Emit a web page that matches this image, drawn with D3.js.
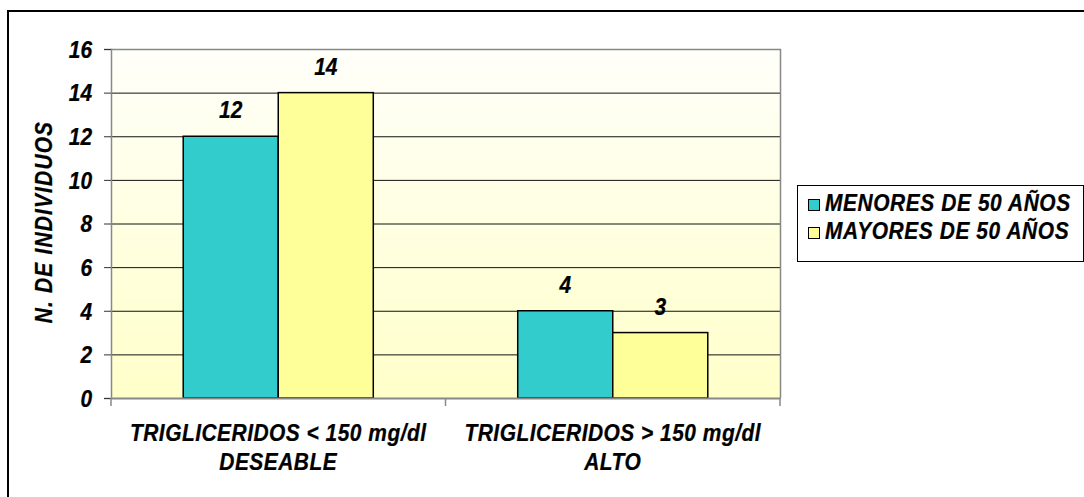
<!DOCTYPE html>
<html>
<head>
<meta charset="utf-8">
<script src="https://cdn.jsdelivr.net/npm/d3@7"></script>
<style>
  html, body { margin: 0; padding: 0; background: #fff; }
  svg text { font-family: "Liberation Sans", Arial, sans-serif; font-weight: bold; font-style: italic; fill: #000; stroke: #000; stroke-width: 0.25px; }
</style>
</head>
<body>
<svg id="chart" width="1084" height="497"></svg>
<script>
// Categories (two-line labels) and series
const categories = ["TRIGLICERIDOS < 150 mg/dl|DESEABLE", "TRIGLICERIDOS > 150 mg/dl|ALTO"];
const seriesNames = ["MENORES DE 50 AÑOS", "MAYORES DE 50 AÑOS"];
const menores = [12, 4];
const mayores = [14, 3];
const yTicks = [0, 2, 4, 6, 8, 10, 12, 14, 16];
const yTitle = "N. DE INDIVIDUOS";
const colors = ["#33CCCC", "#FFFF99"];

// Text is set slightly condensed: taller glyphs at the same width
const FONT = 23;
const SX = 0.91;

const svg = d3.select("#chart");

const plot = { left: 111, top: 49, right: 780, bottom: 398 };

// Outer chart frame
svg.append("rect")
  .attr("x", 8).attr("y", 11)
  .attr("width", 1200).attr("height", 600)
  .attr("fill", "#fff").attr("stroke", "#000").attr("stroke-width", 2);

// Plot-area gradient fill
const defs = svg.append("defs");
const grad = defs.append("linearGradient").attr("id", "bg")
  .attr("x1", 0).attr("y1", 0).attr("x2", 0).attr("y2", 1);
grad.append("stop").attr("offset", "0%").attr("stop-color", "#FFFFFA");
grad.append("stop").attr("offset", "100%").attr("stop-color", "#FFFFCA");

const x0 = d3.scaleBand().domain(categories).range([plot.left, plot.right]).padding(0);
const x1 = d3.scaleBand().domain(seriesNames).range([0, x0.bandwidth()])
  .paddingInner(0).paddingOuter(0.76);
const y = d3.scaleLinear().domain([0, 16]).range([plot.bottom, plot.top]);

svg.append("rect")
  .attr("x", plot.left).attr("y", plot.top)
  .attr("width", plot.right - plot.left).attr("height", plot.bottom - plot.top)
  .attr("fill", "url(#bg)");

// Horizontal gridlines
svg.append("g").selectAll("line")
  .data(yTicks.filter(d => d > 0 && d < 16))
  .join("line")
  .attr("x1", plot.left).attr("x2", plot.right)
  .attr("y1", d => y(d) + 0.5).attr("y2", d => y(d) + 0.5)
  .attr("stroke", "#111").attr("stroke-width", 1);

// Plot border (top and right)
svg.append("path")
  .attr("d", `M${plot.left},${plot.top + 0.5}H${plot.right + 0.5}V${plot.bottom}`)
  .attr("fill", "none").attr("stroke", "#888").attr("stroke-width", 1.5);

// Helper: place a condensed text element
function label(sel, x, yy, txt, anchor, spacing) {
  return sel.append("text")
    .attr("transform", `translate(${x},${yy}) scale(${SX},1)`)
    .attr("text-anchor", anchor)
    .style("font-size", FONT + "px")
    .style("letter-spacing", (spacing || 0) + "px")
    .text(txt);
}

// Bars
const data = categories.map((c, i) => ({ cat: c, vals: [menores[i], mayores[i]] }));
const groups = svg.append("g").selectAll("g")
  .data(data).join("g")
  .attr("transform", d => `translate(${x0(d.cat)},0)`);

groups.selectAll("rect")
  .data(d => d.vals.map((v, j) => ({ name: seriesNames[j], v, j })))
  .join("rect")
  .attr("x", d => x1(d.name))
  .attr("y", d => y(d.v))
  .attr("width", x1.bandwidth())
  .attr("height", d => y(0) - y(d.v))
  .attr("fill", d => colors[d.j])
  .attr("stroke", "#000").attr("stroke-width", 1.5);

// Value labels above bars
groups.each(function (d) {
  const g = d3.select(this);
  d.vals.forEach((v, j) => {
    label(g, x1(seriesNames[j]) + x1.bandwidth() / 2, y(v) - 18, v, "middle", 0);
  });
});

// Y axis
const yAxis = svg.append("g")
  .attr("transform", `translate(${plot.left},0)`)
  .call(d3.axisLeft(y).tickValues(yTicks).tickSize(7).tickPadding(12).tickFormat(d3.format("d")));
yAxis.select(".domain").attr("stroke", "#888").attr("stroke-width", 1.5);
yAxis.selectAll(".tick line").attr("stroke", "#333");
yAxis.selectAll(".tick text")
  .style("font-size", FONT + "px")
  .style("font-family", null)
  .attr("x", -19 / SX)
  .attr("transform", `scale(${SX},1)`)
  .attr("dy", "0.36em");

// X axis
const xAxis = svg.append("g")
  .attr("transform", `translate(0,${plot.bottom})`)
  .call(d3.axisBottom(x0).tickSize(0).tickFormat(""));
xAxis.select(".domain").attr("stroke", "#888").attr("stroke-width", 2);
xAxis.selectAll(".tick").remove();

// Category separators on the x axis
const sepX = [plot.left, x0(categories[1]), plot.right];
svg.append("g").selectAll("line")
  .data(sepX).join("line")
  .attr("x1", d => d).attr("x2", d => d)
  .attr("y1", plot.bottom).attr("y2", plot.bottom + 8)
  .attr("stroke", "#888").attr("stroke-width", 1.5);

// Category labels (two lines each)
const catG = svg.append("g");
categories.forEach(c => {
  c.split("|").forEach((t, k) => {
    label(catG, x0(c) + x0.bandwidth() / 2, 441 + k * 29, t, "middle", 0.55);
  });
});

// Y axis title
svg.append("text")
  .attr("transform", `translate(52,222) rotate(-90) scale(${SX},1)`)
  .attr("text-anchor", "middle")
  .style("font-size", FONT + "px")
  .style("letter-spacing", "1.3px")
  .text(yTitle);

// Legend
const legend = svg.append("g");
legend.append("rect")
  .attr("x", 797.5).attr("y", 185.5).attr("width", 286).attr("height", 76)
  .attr("fill", "#fff").attr("stroke", "#000").attr("stroke-width", 1);
seriesNames.forEach((name, i) => {
  legend.append("rect")
    .attr("x", 808.5).attr("y", 199.5 + i * 28).attr("width", 11).attr("height", 11)
    .attr("fill", colors[i]).attr("stroke", "#000").attr("stroke-width", 1);
  label(legend, 825, 211 + i * 28, name, "start", 0.65);
});
</script>
</body>
</html>
